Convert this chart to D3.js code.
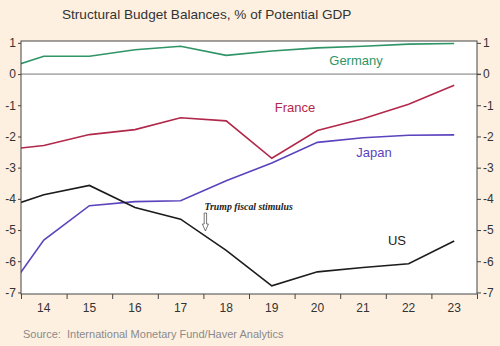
<!DOCTYPE html>
<html>
<head>
<meta charset="utf-8">
<script src="https://cdn.jsdelivr.net/npm/d3@7"></script>
<style>
  body { margin: 0; background: #fdf0e1; }
  svg { display: block; font-family: "Liberation Sans", Arial, sans-serif; }
</style>
</head>
<body>
<script>
// years (2013 is only there so the lines run into the left edge)
const years = [13, 14, 15, 16, 17, 18, 19, 20, 21, 22, 23];
const germany = [0.10, 0.57, 0.57, 0.78, 0.89, 0.60, 0.74, 0.84, 0.89, 0.96, 0.98];
const france = [-2.45, -2.29, -1.94, -1.78, -1.40, -1.50, -2.70, -1.81, -1.43, -0.97, -0.36];
const japan = [-7.37, -5.32, -4.22, -4.09, -4.06, -3.42, -2.85, -2.19, -2.04, -1.96, -1.95];
const us = [-4.36, -3.87, -3.57, -4.28, -4.65, -5.65, -6.79, -6.34, -6.20, -6.08, -5.35];
const yTicks = [1, 0, -1, -2, -3, -4, -5, -6, -7];
const xLabels = ["14", "15", "16", "17", "18", "19", "20", "21", "22", "23"];

const width = 500;
const height = 346;
const margin = { top: 41, right: 23, bottom: 52, left: 21 };

const series = [
  { name: "Germany", values: germany, color: "#2f9466", lx: 356, ly: 65 },
  { name: "France", values: france, color: "#b2284a", lx: 295, ly: 112 },
  { name: "Japan", values: japan, color: "#5b43bd", lx: 374, ly: 157 },
  { name: "US", values: us, color: "#1c1c1c", lx: 397, ly: 245 }
];

const svg = d3.select("body").append("svg")
  .attr("width", width)
  .attr("height", height);

svg.append("rect")
  .attr("width", width)
  .attr("height", height)
  .attr("fill", "#fdf0e1");

const x = d3.scaleLinear()
  .domain([13.5, 23.5])
  .range([margin.left, width - margin.right]);

const y = d3.scaleLinear()
  .domain([-7.05, 1.06])
  .range([height - margin.bottom, margin.top]);

svg.append("rect")
  .attr("x", x.range()[0])
  .attr("y", y.range()[1])
  .attr("width", x.range()[1] - x.range()[0])
  .attr("height", y.range()[0] - y.range()[1])
  .attr("fill", "#fff");

svg.append("clipPath")
  .attr("id", "plot")
  .append("rect")
  .attr("x", x.range()[0])
  .attr("y", y.range()[1])
  .attr("width", x.range()[1] - x.range()[0])
  .attr("height", y.range()[0] - y.range()[1]);

// zero line, runs out to the right tick
svg.append("line")
  .attr("x1", x.range()[0])
  .attr("x2", x.range()[1] + 4)
  .attr("y1", y(0))
  .attr("y2", y(0))
  .attr("stroke", "#777")
  .attr("stroke-width", 1);

const line = d3.line()
  .x((d, i) => x(years[i]))
  .y(d => y(d));

svg.append("g")
  .attr("clip-path", "url(#plot)")
  .selectAll("path")
  .data(series)
  .enter().append("path")
  .attr("d", d => line(d.values))
  .attr("fill", "none")
  .attr("stroke", d => d.color)
  .attr("stroke-width", 1.6);

svg.selectAll(".lbl")
  .data(series)
  .enter().append("text")
  .attr("class", "lbl")
  .attr("x", d => d.lx)
  .attr("y", d => d.ly)
  .attr("text-anchor", "middle")
  .attr("fill", d => d.color)
  .style("font-size", "13px")
  .text(d => d.name);

// frame
svg.append("rect")
  .attr("x", x.range()[0])
  .attr("y", y.range()[1])
  .attr("width", x.range()[1] - x.range()[0])
  .attr("height", y.range()[0] - y.range()[1])
  .attr("fill", "none")
  .attr("stroke", "#444")
  .attr("stroke-width", 1);

const yLeft = svg.append("g")
  .attr("transform", `translate(${x.range()[0]},0)`)
  .call(d3.axisLeft(y).tickValues(yTicks).tickSize(3).tickPadding(2).tickFormat(d => String(d)));

const yRight = svg.append("g")
  .attr("transform", `translate(${x.range()[1]},0)`)
  .call(d3.axisRight(y).tickValues(yTicks).tickSize(4).tickPadding(2).tickFormat(d => String(d)));

const xAxis = svg.append("g")
  .attr("transform", `translate(0,${y.range()[0]})`)
  .call(d3.axisBottom(x).tickValues(d3.range(13.5, 24, 1)).tickSize(5).tickFormat(""));

svg.append("g")
  .selectAll("text")
  .data(xLabels)
  .enter().append("text")
  .attr("x", (d, i) => x(years[i + 1]))
  .attr("y", y.range()[0] + 18)
  .attr("text-anchor", "middle")
  .attr("fill", "#333")
  .style("font-size", "12px")
  .text(d => d);

[yLeft, yRight, xAxis].forEach(g => {
  g.select(".domain").remove();
  g.selectAll("line").attr("stroke", "#444");
  g.selectAll("text").attr("fill", "#333").style("font-size", "12px")
    .style("font-family", "'Liberation Sans', Arial, sans-serif");
});

// annotation
svg.append("text")
  .attr("x", x(17.5) + 1)
  .attr("y", 210)
  .attr("fill", "#222")
  .style("font-family", "'Liberation Serif', 'Times New Roman', serif")
  .style("font-style", "italic")
  .style("font-weight", "bold")
  .style("font-size", "9.8px")
  .text("Trump fiscal stimulus");

const ax = x(17.5) + 2;
svg.append("path")
  .attr("d", `M${ax - 1.2},213 V224 H${ax - 3} L${ax},231 L${ax + 3},224 H${ax + 1.2} V213 Z`)
  .attr("fill", "#fff")
  .attr("stroke", "#555")
  .attr("stroke-width", 0.8);

svg.append("text")
  .attr("x", 62)
  .attr("y", 19)
  .attr("fill", "#333")
  .style("font-size", "13.6px")
  .text("Structural Budget Balances, % of Potential GDP");

svg.append("text")
  .attr("x", 23)
  .attr("y", 338)
  .attr("fill", "#8a8a8a")
  .style("font-size", "11px")
  .style("white-space", "pre")
  .text("Source:  International Monetary Fund/Haver Analytics");
</script>
</body>
</html>
